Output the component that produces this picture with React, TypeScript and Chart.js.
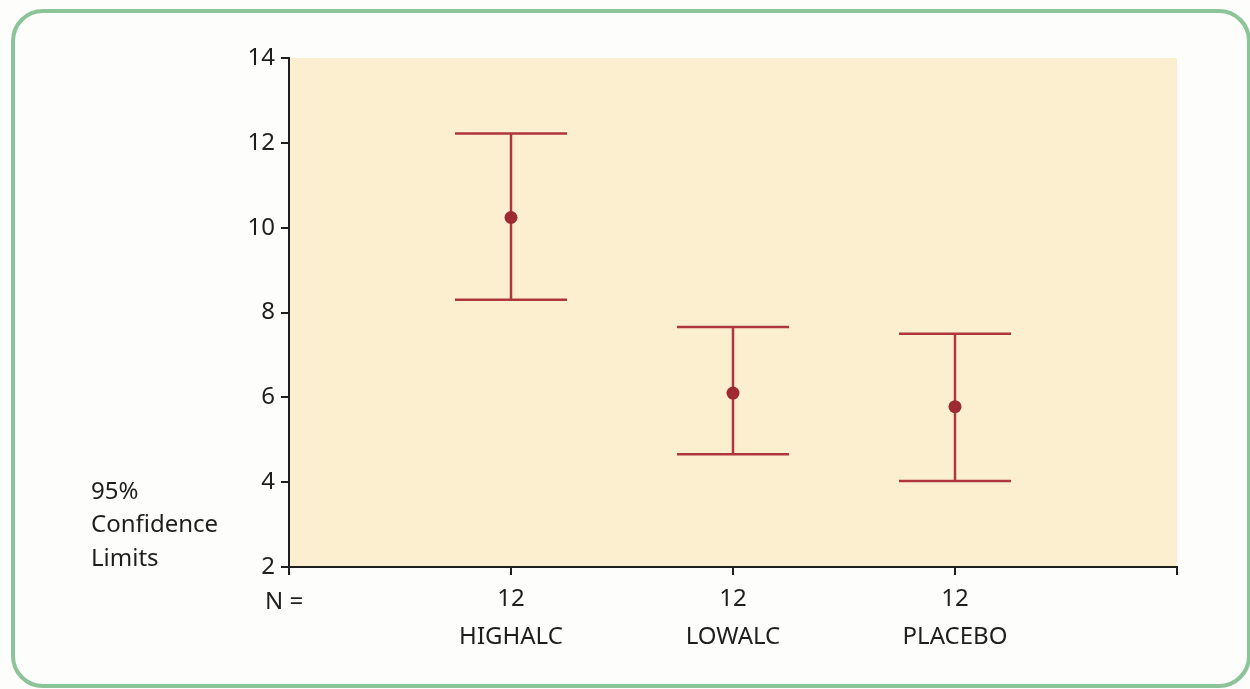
import React, { useEffect, useRef } from "react";
import { Chart, registerables } from "chart.js";

Chart.register(...registerables);

const categories = ["HIGHALC", "LOWALC", "PLACEBO"];
const groupN = [12, 12, 12];
const means = [10.24, 6.1, 5.78];
const lowerCI = [8.3, 4.66, 4.03];
const upperCI = [12.22, 7.66, 7.5];
const yTicks = [2, 4, 6, 8, 10, 12, 14];

const FONT = "'Noto Sans', 'Open Sans', sans-serif";
const INK = "#1e1e1e";
const RED_LINE = "#b0363d";
const RED_DOT = "#9d2a31";

export default function App() {
  const ref = useRef<HTMLCanvasElement | null>(null);

  useEffect(() => {
    const canvas = ref.current;
    if (!canvas) return;

    const bgPlugin = {
      id: "bgPlugin",
      beforeDraw(chart: any) {
        const { ctx, chartArea } = chart;
        ctx.save();
        ctx.fillStyle = "#fcefd0";
        ctx.fillRect(chartArea.left, chartArea.top, chartArea.right - chartArea.left, chartArea.bottom - chartArea.top);
        ctx.restore();
      },
    };

    const errPlugin = {
      id: "errPlugin",
      afterDatasetsDraw(chart: any) {
        const { ctx } = chart;
        const xs = chart.scales.x;
        const ys = chart.scales.y;
        ctx.save();
        ctx.strokeStyle = RED_LINE;
        ctx.lineWidth = 2.5;
        categories.forEach((_, i) => {
          const x = xs.getPixelForValue(i + 1);
          const yl = ys.getPixelForValue(lowerCI[i]);
          const yu = ys.getPixelForValue(upperCI[i]);
          const half = 56;
          ctx.beginPath();
          ctx.moveTo(x, yu);
          ctx.lineTo(x, yl);
          ctx.moveTo(x - half, yu);
          ctx.lineTo(x + half, yu);
          ctx.moveTo(x - half, yl);
          ctx.lineTo(x + half, yl);
          ctx.stroke();
        });
        const meta = chart.getDatasetMeta(0);
        ctx.fillStyle = RED_DOT;
        meta.data.forEach((pt: any) => {
          ctx.beginPath();
          ctx.arc(pt.x, pt.y, 6.5, 0, Math.PI * 2);
          ctx.fill();
        });
        ctx.fillStyle = INK;
        ctx.font = `24px ${FONT}`;
        ctx.textBaseline = "middle";
        ctx.textAlign = "left";
        ctx.fillText("95%", 91, 492);
        ctx.fillText("Confidence", 91, 525);
        ctx.fillText("Limits", 91, 559);
        ctx.fillText("N =", 265, 602);
        ctx.restore();
      },
    };

    const chart = new Chart(canvas, {
      type: "scatter",
      data: {
        datasets: [
          {
            data: means.map((m, i) => ({ x: i + 1, y: m })),
            pointRadius: 0,
            pointHoverRadius: 0,
            showLine: false,
            backgroundColor: RED_DOT,
            borderColor: RED_DOT,
          },
        ],
      },
      options: {
        responsive: false,
        animation: false,
        events: [],
        layout: { padding: { left: 0, top: 58, right: 73, bottom: 0 } },
        plugins: { legend: { display: false }, tooltip: { enabled: false } },
        scales: {
          x: {
            type: "linear",
            min: 0,
            max: 4,
            afterFit(scale: any) {
              scale.height = 122;
            },
            afterBuildTicks(scale: any) {
              scale.ticks = [0, 1, 2, 3, 4].map((v) => ({ value: v }));
            },
            ticks: {
              autoSkip: false,
              maxRotation: 0,
              padding: 5,
              color: INK,
              font: { family: FONT, size: 24, lineHeight: 1.6 },
              callback: (v: any) => {
                const i = Number(v) - 1;
                if (i >= 0 && i < categories.length) return [String(groupN[i]), categories[i]];
                return "";
              },
            },
            grid: { drawOnChartArea: false, drawTicks: true, tickLength: 8, color: INK, lineWidth: 2 },
            border: { display: true, color: INK, width: 2 },
          },
          y: {
            type: "linear",
            min: 2,
            max: 14,
            afterFit(scale: any) {
              scale.width = 289;
            },
            afterBuildTicks(scale: any) {
              scale.ticks = yTicks.map((v) => ({ value: v }));
            },
            ticks: {
              padding: 6,
              color: INK,
              font: { family: FONT, size: 24 },
            },
            grid: { drawOnChartArea: false, drawTicks: true, tickLength: 8, color: INK, lineWidth: 2 },
            border: { display: true, color: INK, width: 2 },
          },
        },
      },
      plugins: [bgPlugin, errPlugin],
    });

    return () => chart.destroy();
  }, []);

  return (
    <div style={{ position: "fixed", left: 0, top: 0, width: 1250, height: 689, background: "#fdfdfb", overflow: "hidden" }}>
      <div
        style={{
          position: "absolute",
          left: 11,
          top: 9,
          width: 1240,
          height: 679,
          boxSizing: "border-box",
          border: "4px solid #8cc49a",
          borderRadius: 32,
        }}
      />
      <canvas ref={ref} width={1250} height={689} style={{ position: "absolute", left: 0, top: 0 }} />
    </div>
  );
}
